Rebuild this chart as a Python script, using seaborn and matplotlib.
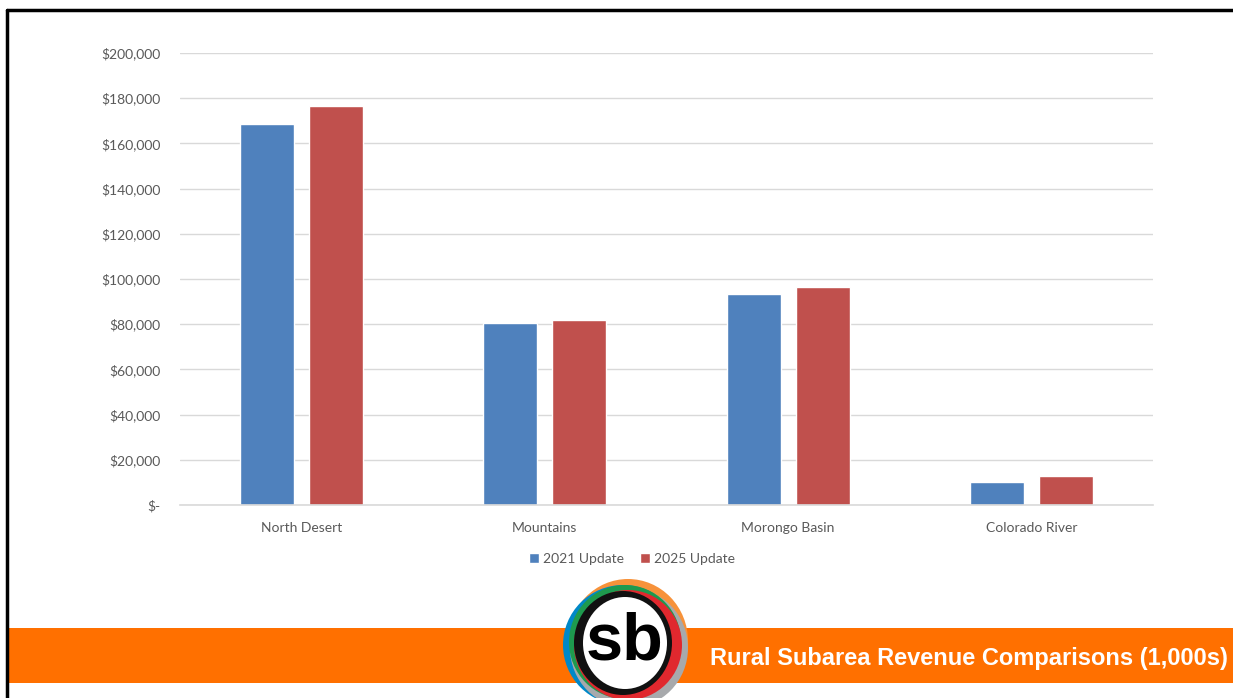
import pandas as pd
import matplotlib
matplotlib.use("Agg")
import matplotlib.pyplot as plt
import matplotlib.patches as mpatches
from matplotlib.ticker import FuncFormatter
import seaborn as sns

# data (thousands of dollars)
regions = ["North Desert", "Mountains", "Morongo Basin", "Colorado River"]
update_2021 = [168600, 80500, 93400, 10200]
update_2025 = [176500, 81900, 96500, 12800]
series = ["2021 Update", "2025 Update"]
title = "Rural Subarea Revenue Comparisons (1,000s)"

df = pd.DataFrame({
    "region": regions * 2,
    "value": update_2021 + update_2025,
    "series": [series[0]] * 4 + [series[1]] * 4,
})

sns.set_theme(style="white")
plt.rcParams["font.family"] = ["Lato", "DejaVu Sans"]

W, H = 1233, 698
fig = plt.figure(figsize=(W / 100, H / 100), dpi=100)
fig.patch.set_facecolor("white")

# axes placed in pixel coords
ax = fig.add_axes([180 / W, (H - 505) / H, 973 / W, 452 / H])
sns.barplot(data=df, x="region", y="value", hue="series",
            palette=["#4F81BD", "#C0504D"], width=0.568, gap=0.217,
            saturation=1, ax=ax, legend=True)

ax.set_ylim(0, 200000)
ax.set_xlim(-0.5, 3.5)
ax.set_yticks(range(0, 200001, 20000))
ax.yaxis.set_major_formatter(FuncFormatter(lambda v, p: "$-" if v == 0 else f"${v:,.0f}"))
ax.grid(axis="y", color="#d9d9d9", linewidth=1)
ax.set_axisbelow(True)
for s in ["top", "right", "left"]:
    ax.spines[s].set_visible(False)
ax.spines["bottom"].set_color("#d9d9d9")
ax.spines["bottom"].set_linewidth(1.2)
ax.tick_params(axis="both", length=0, labelsize=10, labelcolor="#595959")
ax.tick_params(axis="x", pad=12)
ax.tick_params(axis="y", pad=14)
ax.set_xlabel("")
ax.set_ylabel("")

ax.legend(loc="center", bbox_to_anchor=(632 / W, (H - 559) / H),
          bbox_transform=fig.transFigure, ncol=2, frameon=False,
          fontsize=10, labelcolor="#595959", handlelength=0.7,
          handleheight=0.7, handletextpad=0.3, columnspacing=1.2)

# frame lines (top and left)
fig.add_artist(plt.Line2D([7 / W, 1], [1 - 10 / H, 1 - 10 / H], color="black", lw=2.5))
fig.add_artist(plt.Line2D([7 / W, 7 / W], [0, 1 - 10 / H], color="black", lw=2.5))

# orange band
fig.add_artist(mpatches.Rectangle((8 / W, (H - 683) / H), (W - 8) / W, 55 / H,
                                  transform=fig.transFigure, color="#FF7000", lw=0))
fig.text(1228 / W, (H - 658) / H, title, ha="right", va="center", color="white",
         fontsize=17, fontweight="bold", family=["Liberation Sans", "DejaVu Sans"])

# logo: colored rings + white disc
cx, cy = 625, 643
rings = [("#F7923A", 3, -2, 60, 62), ("#0088C8", -2, 2, 60, 60),
         ("#A7A9AC", 4, 5, 59, 60), ("#1E9A4E", 0, -1, 56, 57),
         ("#E0282E", 3, 2, 54, 55), ("#111111", -2, 0, 49, 52)]
for col, dx, dy, rw, rh in rings:
    fig.add_artist(mpatches.Ellipse(((cx + dx) / W, (H - (cy + dy)) / H),
                                    2 * rw / W, 2 * rh / H,
                                    transform=fig.transFigure, color=col, lw=0))
fig.add_artist(mpatches.Ellipse((cx / W, (H - cy) / H), 2 * 42 / W, 2 * 46 / H,
                                transform=fig.transFigure, color="white", lw=0))
fig.text(cx / W, (H - cy) / H, "sb", ha="center", va="center", color="black",
         fontsize=48, fontweight="bold", family=["Liberation Sans", "DejaVu Sans"])

fig.savefig("out.png", dpi=100)
